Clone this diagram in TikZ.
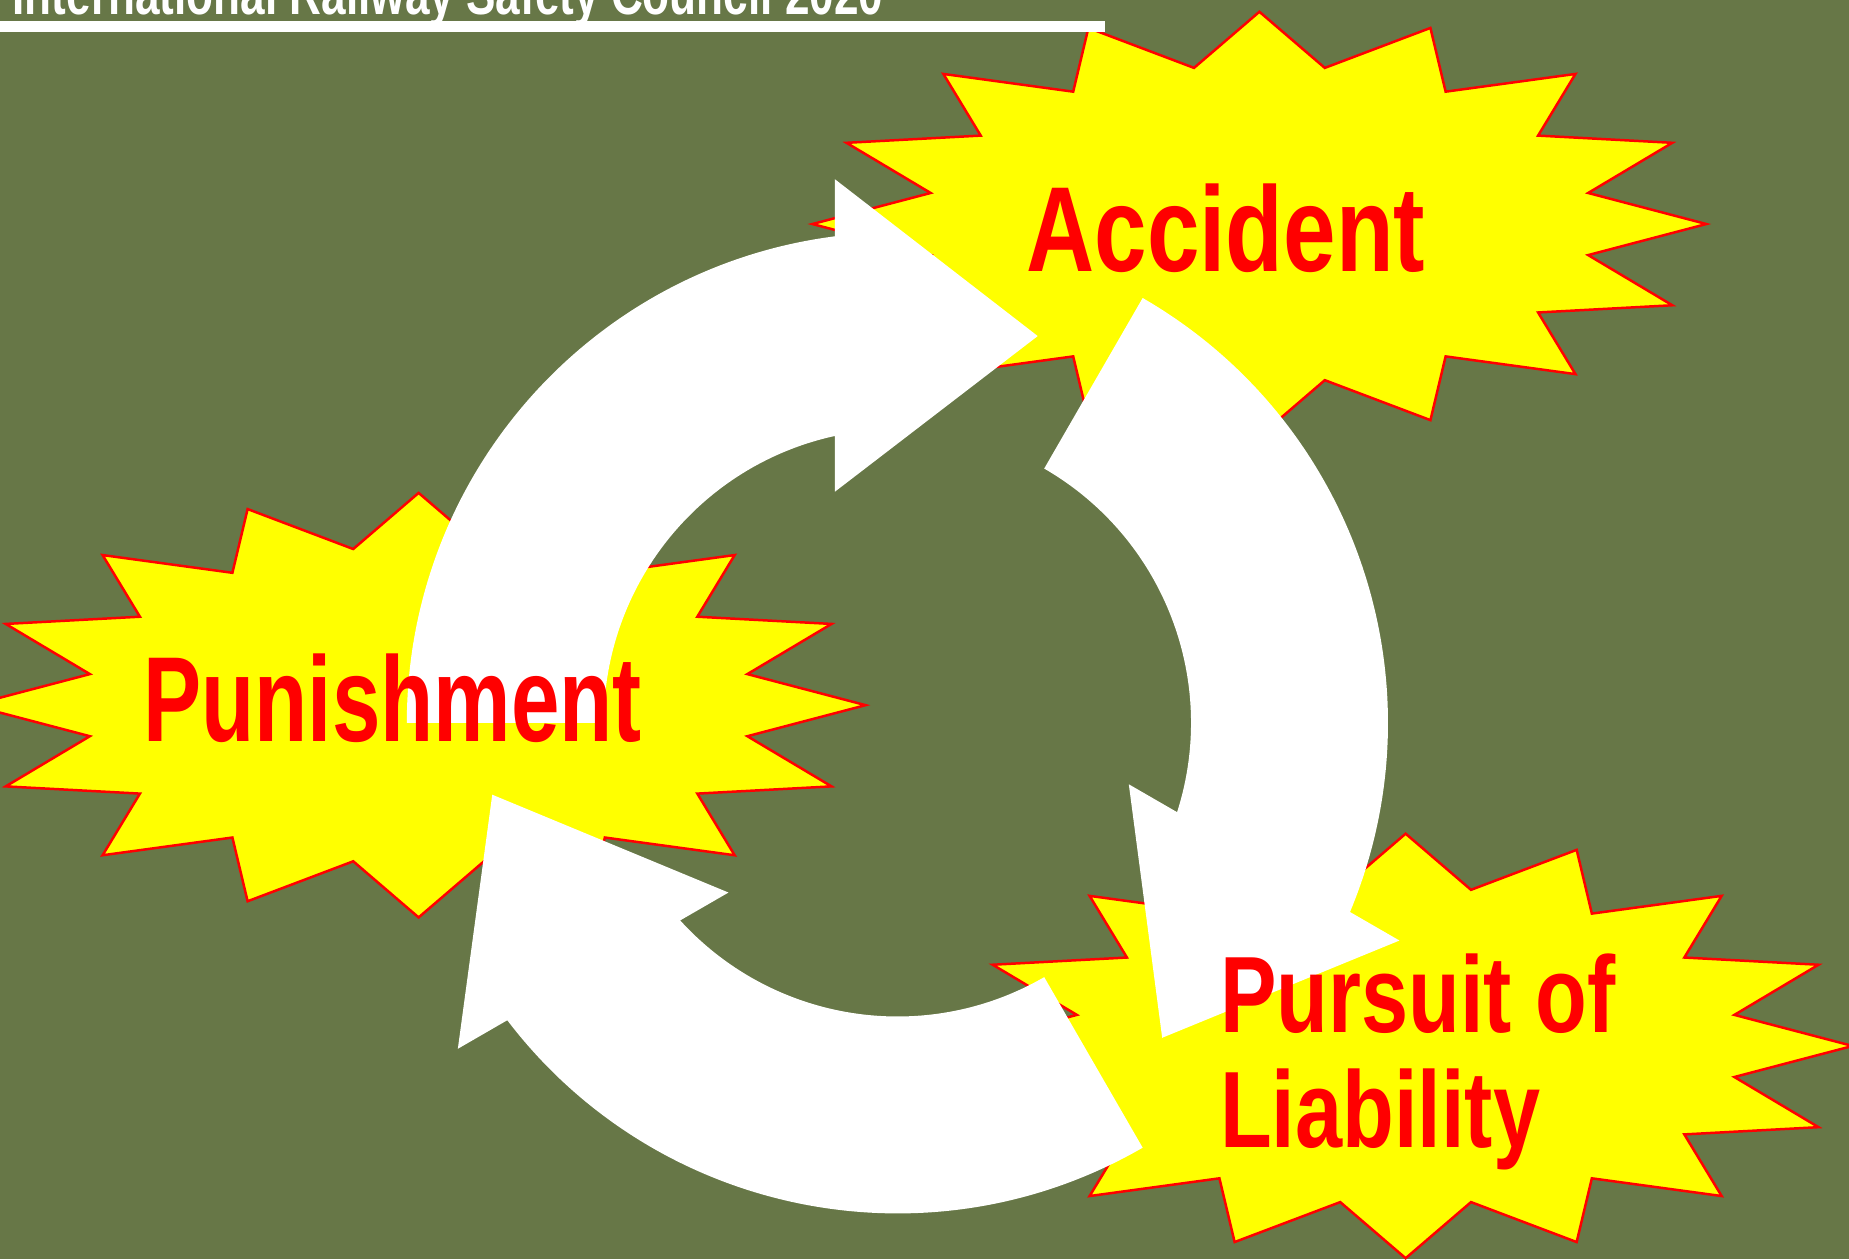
\documentclass[tikz,border=0pt]{standalone}
\usepackage{fontspec}
\setmainfont{Liberation Sans}[FakeStretch=0.75]
\newfontfamily\burstwide{Liberation Sans}[FakeStretch=0.78]
\newfontfamily\burstslim{Liberation Sans}[FakeStretch=0.72]
\usepackage{tikz}
\usetikzlibrary{calc}
\definecolor{slidegreen}{RGB}{103,119,71}
\definecolor{burstyellow}{RGB}{255,255,0}
\definecolor{burstred}{RGB}{255,0,0}

\begin{document}
\begin{tikzpicture}[
	burst/.style={draw=burstred, fill=burstyellow, line width=0.6pt, line join=miter},
	cyclearrow/.style={fill=white},
	bigword/.style={text=burstred, inner sep=0pt, font=\burstwide\bfseries\fontsize{29.2}{35}\selectfont}
	]
			
			\useasboundingbox (0,0) rectangle (15.68,10.68);
			\fill[slidegreen] (0,0) rectangle (15.68,10.68);
			\clip (0,0) rectangle (15.68,10.68);
			
			\foreach \cx/\cy in {10.68/8.78, 3.55/4.70, 11.92/1.81}
				\draw[burst, shift={(\cx,\cy)}] plot[samples at={0,...,31}, variable=\k]
					({(1-0.25*mod(\k,2))*3.79*cos(90+11.25*\k)}, {(1-0.25*mod(\k,2))*1.80*sin(90+11.25*\k)}) -- cycle;
			
			\fill[white] (0,10.411) rectangle (9.37,10.505);
			\node[anchor=base west, inner sep=0pt, text=white, font=\bfseries\fontsize{14.2}{17}\selectfont] (title) at (0.1,10.561) {International Railway Safety Council 2020};
			
			\coordinate (hub) at (7.61,4.55);
			\foreach \turn in {0,-120,-240}
				\fill[cyclearrow, shift={(hub)}, rotate=\turn] (180:2.49) -- (180:4.16)
					arc[start angle=180, end angle=97.32, radius=4.16] -- (-0.53,4.61) -- (1.19,3.28) -- (-0.53,1.96)
					-- (102.29:2.49) arc[start angle=102.29, end angle=180, radius=2.49] -- cycle;
			
			\node[bigword, anchor=base] (accident) at (10.395,8.376) {Accident};
			\node[bigword, anchor=base, font=\burstslim\bfseries\fontsize{29.2}{35}\selectfont] (punishment) at (3.329,4.39) {Punishment};
			\node[bigword, anchor=base west, align=left, font=\burstwide\bfseries\fontsize{26.2}{27.7}\selectfont] (pursuit) at (10.34,0.947) {Pursuit of\\Liability};
			
		\end{tikzpicture}
\end{document}
